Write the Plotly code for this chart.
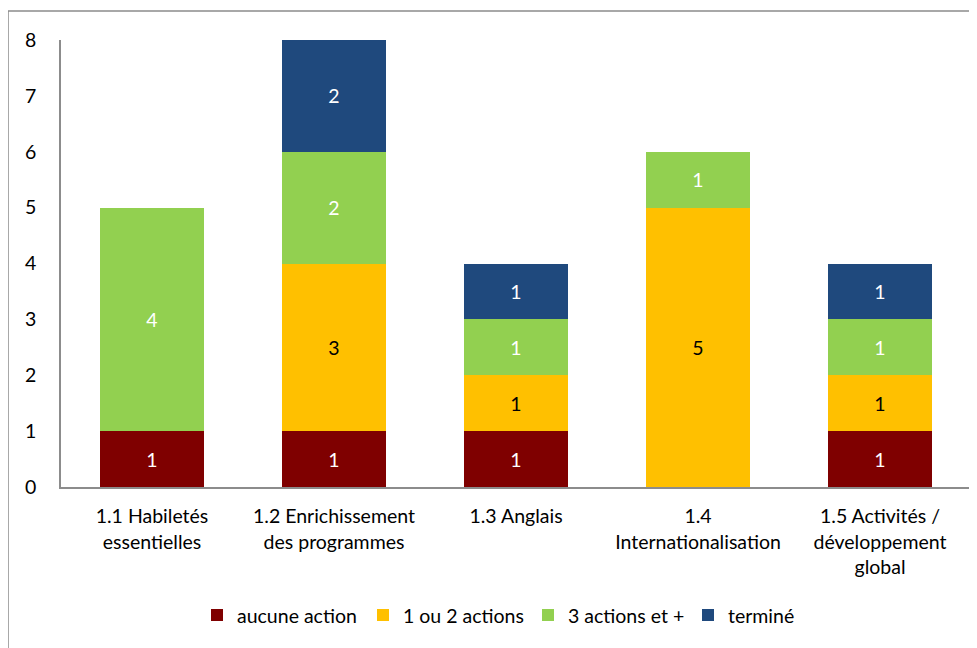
import plotly.graph_objects as go

categories = ["1.1 Habiletés<br>essentielles", "1.2 Enrichissement<br>des programmes",
              "1.3 Anglais", "1.4<br>Internationalisation",
              "1.5 Activités /<br>développement<br>global"]
aucune = [1, 1, 1, 0, 1]
un_deux = [0, 3, 1, 5, 1]
trois_plus = [4, 2, 1, 1, 1]
termine = [0, 2, 1, 0, 1]
series_names = ["aucune action", "1 ou 2 actions", "3 actions et +", "terminé"]
series_values = [aucune, un_deux, trois_plus, termine]
colors = ["#7F0000", "#FFC000", "#92D050", "#1F497D"]
text_colors = ["white", "black", "white", "white"]

FONT = "Lato, Calibri, Carlito, sans-serif"
FS = 19.5
PLOT_L, PLOT_W, PLOT_H = 61, 910, 447
legend_text_starts = [237, 403, 568, 728]
legend_ids = ["legend", "legend2", "legend3", "legend4"]

fig = go.Figure()
for name, vals, c, tc, lid in zip(series_names, series_values, colors, text_colors, legend_ids):
    fig.add_trace(go.Bar(
        x=categories, y=vals, name=name, marker=dict(color=c, line=dict(width=0)),
        text=[str(v) if v else "" for v in vals], textposition="inside",
        insidetextanchor="middle", constraintext="none",
        textfont=dict(color=tc, size=FS, family=FONT),
        hoverinfo="skip", legend=lid,
    ))

legend_layout = {}
for lid, ts in zip(legend_ids, legend_text_starts):
    legend_layout[lid] = dict(
        orientation="h", x=(ts - 40 - PLOT_L) / PLOT_W, xanchor="left",
        y=-0.287, yanchor="middle", font=dict(size=FS, family=FONT),
        itemclick=False, itemdoubleclick=False, bgcolor="rgba(0,0,0,0)",
        borderwidth=0, itemwidth=30,
    )

fig.update_layout(
    barmode="stack", bargap=0.43,
    width=977, height=648,
    margin=dict(l=53, r=14, t=32, b=169, autoexpand=False),
    paper_bgcolor="white", plot_bgcolor="white",
    font=dict(family=FONT, size=FS, color="black"),
    showlegend=True,
    **legend_layout,
)
fig.update_yaxes(range=[0, 8], dtick=1, showgrid=False, showline=True, linecolor="#8C8C8C",
                 linewidth=1.5, ticks="", zeroline=False, ticklabelstandoff=19,
                 tickfont=dict(size=FS), automargin=False)
fig.update_xaxes(showgrid=False, showline=True, linecolor="#8C8C8C", linewidth=1.5,
                 ticks="", ticklabelstandoff=11, tickfont=dict(size=FS), automargin=False)
# outer chart border (cropped at right/bottom in reference)
fig.add_shape(type="rect", xref="paper", yref="paper",
              x0=-53 / PLOT_W, x1=1.03, y0=-0.5, y1=1 + 29 / PLOT_H,
              line=dict(color="#8C8C8C", width=1.5), fillcolor="rgba(0,0,0,0)", layer="below")
fig.write_html("out.html")
